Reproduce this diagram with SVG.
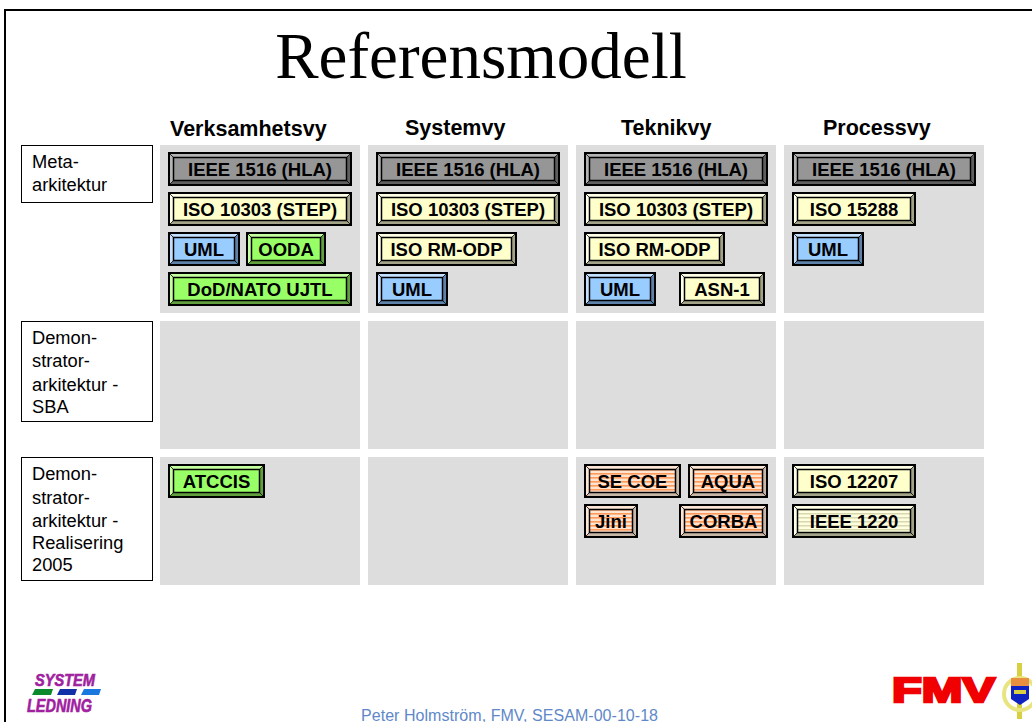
<svg xmlns="http://www.w3.org/2000/svg" width="1032" height="722" viewBox="0 0 1032 722">
<style>
text{font-family:"Liberation Sans",Arial,sans-serif}
.p{fill:#ddd}
.l{fill:#fff;stroke:#000;stroke-width:1}
.lt{font-size:18.3px;fill:#000}
.h{font-size:21.5px;font-weight:bold;fill:#000}
.t{font-size:18.5px;font-weight:bold;text-anchor:middle;fill:#000}
.o{fill:#000}.bd{fill:var(--d)}.bl{fill:var(--l)}.bf{fill:var(--f);stroke:#000;stroke-width:1.5}
.c{fill:none;stroke:#000;stroke-width:.8}
.gray{--d:#5f5f5f;--l:#b4b4b4;--f:#969696}
.yel{--d:#a3a38a;--l:#ffffe8;--f:#ffc}
.blu{--d:#5f82ab;--l:#c4e0ff;--f:#9cf}
.grn{--d:#62a03f;--l:#c4ffa0;--f:#9f6}
.org{--d:#c9b7a8;--l:#fbe6d5;--f:url(#so)}
.ylw{--d:#a3a38a;--l:#ffffe8;--f:url(#sy)}
</style>
<defs>
<filter id="soft" x="-5%" y="-5%" width="110%" height="110%"><feGaussianBlur stdDeviation="0.5"/></filter>
<pattern id="so" width="4" height="4" patternUnits="userSpaceOnUse"><rect width="4" height="4" fill="#ffe4d0"/><rect y="1" width="4" height="1.6" fill="#ff9a5c"/></pattern>
<pattern id="sy" width="4" height="4" patternUnits="userSpaceOnUse"><rect width="4" height="4" fill="#ffffe0"/><rect y="1" width="4" height="1.5" fill="#d8d8b0"/></pattern>
<g id="w184"><rect class="o" width="184" height="34"/><rect class="bd" x="2" y="2" width="180" height="30"/><path class="bl" d="M2 2h180l-3.500 3.500H5.500v23L2 32z"/><rect class="bf" x="5.500" y="5.500" width="173" height="23"/><path class="c" d="M2 2l4 4M182 2l-4 4M2 32l4-4M182 32l-4-4"/></g>
<g id="w141"><rect class="o" width="141" height="34"/><rect class="bd" x="2" y="2" width="137" height="30"/><path class="bl" d="M2 2h137l-3.500 3.500H5.500v23L2 32z"/><rect class="bf" x="5.500" y="5.500" width="130" height="23"/><path class="c" d="M2 2l4 4M139 2l-4 4M2 32l4-4M139 32l-4-4"/></g>
<g id="w124"><rect class="o" width="124" height="34"/><rect class="bd" x="2" y="2" width="120" height="30"/><path class="bl" d="M2 2h120l-3.500 3.500H5.500v23L2 32z"/><rect class="bf" x="5.500" y="5.500" width="113" height="23"/><path class="c" d="M2 2l4 4M122 2l-4 4M2 32l4-4M122 32l-4-4"/></g>
<g id="w97"><rect class="o" width="97" height="34"/><rect class="bd" x="2" y="2" width="93" height="30"/><path class="bl" d="M2 2h93l-3.500 3.500H5.500v23L2 32z"/><rect class="bf" x="5.500" y="5.500" width="86" height="23"/><path class="c" d="M2 2l4 4M95 2l-4 4M2 32l4-4M95 32l-4-4"/></g>
<g id="w89"><rect class="o" width="89" height="34"/><rect class="bd" x="2" y="2" width="85" height="30"/><path class="bl" d="M2 2h85l-3.500 3.500H5.500v23L2 32z"/><rect class="bf" x="5.500" y="5.500" width="78" height="23"/><path class="c" d="M2 2l4 4M87 2l-4 4M2 32l4-4M87 32l-4-4"/></g>
<g id="w86"><rect class="o" width="86" height="34"/><rect class="bd" x="2" y="2" width="82" height="30"/><path class="bl" d="M2 2h82l-3.500 3.500H5.500v23L2 32z"/><rect class="bf" x="5.500" y="5.500" width="75" height="23"/><path class="c" d="M2 2l4 4M84 2l-4 4M2 32l4-4M84 32l-4-4"/></g>
<g id="w80"><rect class="o" width="80" height="34"/><rect class="bd" x="2" y="2" width="76" height="30"/><path class="bl" d="M2 2h76l-3.500 3.500H5.500v23L2 32z"/><rect class="bf" x="5.500" y="5.500" width="69" height="23"/><path class="c" d="M2 2l4 4M78 2l-4 4M2 32l4-4M78 32l-4-4"/></g>
<g id="w72"><rect class="o" width="72" height="34"/><rect class="bd" x="2" y="2" width="68" height="30"/><path class="bl" d="M2 2h68l-3.500 3.500H5.500v23L2 32z"/><rect class="bf" x="5.500" y="5.500" width="61" height="23"/><path class="c" d="M2 2l4 4M70 2l-4 4M2 32l4-4M70 32l-4-4"/></g>
<g id="w54"><rect class="o" width="54" height="34"/><rect class="bd" x="2" y="2" width="50" height="30"/><path class="bl" d="M2 2h50l-3.500 3.500H5.500v23L2 32z"/><rect class="bf" x="5.500" y="5.500" width="43" height="23"/><path class="c" d="M2 2l4 4M52 2l-4 4M2 32l4-4M52 32l-4-4"/></g>
</defs>
<rect width="1032" height="722" fill="#fff"/>
<path d="M5 722V10H1032" fill="none" stroke="#000" stroke-width="2"/>
<text x="481" y="78" font-size="65" text-anchor="middle" style="font-family:'Liberation Serif',serif" fill="#000">Referensmodell</text>
<g id="headings">
<text class="h" x="170" y="136">Verksamhetsvy</text>
<text class="h" x="405" y="135">Systemvy</text>
<text class="h" x="621" y="135">Teknikvy</text>
<text class="h" x="823" y="135">Processvy</text>
</g>
<g id="panels">
<rect class="p" x="160" y="145" width="200" height="168"/><rect class="p" x="368" y="145" width="200" height="168"/><rect class="p" x="576" y="145" width="200" height="168"/><rect class="p" x="784" y="145" width="200" height="168"/>
<rect class="p" x="160" y="321" width="200" height="128"/><rect class="p" x="368" y="321" width="200" height="128"/><rect class="p" x="576" y="321" width="200" height="128"/><rect class="p" x="784" y="321" width="200" height="128"/>
<rect class="p" x="160" y="457" width="200" height="128"/><rect class="p" x="368" y="457" width="200" height="128"/><rect class="p" x="576" y="457" width="200" height="128"/><rect class="p" x="784" y="457" width="200" height="128"/>
</g>
<g id="label-meta"><rect class="l" x="21.500" y="145.500" width="131" height="57"/><text class="lt" x="32" y="168">Meta-</text><text class="lt" x="32" y="191">arkitektur</text></g>
<g id="label-sba"><rect class="l" x="21.500" y="321.500" width="131" height="100"/><text class="lt" x="32" y="344">Demon-</text><text class="lt" x="32" y="367">strator-</text><text class="lt" x="32" y="391">arkitektur -</text><text class="lt" x="32" y="413">SBA</text></g>
<g id="label-real"><rect class="l" x="21.500" y="457.500" width="131" height="123"/><text class="lt" x="32" y="480">Demon-</text><text class="lt" x="32" y="504">strator-</text><text class="lt" x="32" y="527">arkitektur -</text><text class="lt" x="32" y="549">Realisering</text><text class="lt" x="32" y="571">2005</text></g>

<g id="n1" class="gray" transform="translate(168 152)"><use href="#w184"/><text class="t" x="92" y="24">IEEE 1516 (HLA)</text></g>
<g id="n2" class="yel" transform="translate(168 192)"><use href="#w184"/><text class="t" x="92" y="24">ISO 10303 (STEP)</text></g>
<g id="n3" class="blu" transform="translate(168 232)"><use href="#w72"/><text class="t" x="36" y="24">UML</text></g>
<g id="n4" class="grn" transform="translate(246 232)"><use href="#w80"/><text class="t" x="40" y="24">OODA</text></g>
<g id="n5" class="grn" transform="translate(168 272)"><use href="#w184"/><text class="t" x="92" y="24">DoD/NATO UJTL</text></g>
<g id="n6" class="gray" transform="translate(376 152)"><use href="#w184"/><text class="t" x="92" y="24">IEEE 1516 (HLA)</text></g>
<g id="n7" class="yel" transform="translate(376 192)"><use href="#w184"/><text class="t" x="92" y="24">ISO 10303 (STEP)</text></g>
<g id="n8" class="yel" transform="translate(376 232)"><use href="#w141"/><text class="t" x="70.500" y="24">ISO RM-ODP</text></g>
<g id="n9" class="blu" transform="translate(376 272)"><use href="#w72"/><text class="t" x="36" y="24">UML</text></g>
<g id="n10" class="gray" transform="translate(584 152)"><use href="#w184"/><text class="t" x="92" y="24">IEEE 1516 (HLA)</text></g>
<g id="n11" class="yel" transform="translate(584 192)"><use href="#w184"/><text class="t" x="92" y="24">ISO 10303 (STEP)</text></g>
<g id="n12" class="yel" transform="translate(584 232)"><use href="#w141"/><text class="t" x="70.500" y="24">ISO RM-ODP</text></g>
<g id="n13" class="blu" transform="translate(584 272)"><use href="#w72"/><text class="t" x="36" y="24">UML</text></g>
<g id="n14" class="yel" transform="translate(679 272)"><use href="#w86"/><text class="t" x="43" y="24">ASN-1</text></g>
<g id="n15" class="gray" transform="translate(792 152)"><use href="#w184"/><text class="t" x="92" y="24">IEEE 1516 (HLA)</text></g>
<g id="n16" class="yel" transform="translate(792 192)"><use href="#w124"/><text class="t" x="62" y="24">ISO 15288</text></g>
<g id="n17" class="blu" transform="translate(792 232)"><use href="#w72"/><text class="t" x="36" y="24">UML</text></g>
<g id="n18" class="grn" transform="translate(168 464)"><use href="#w97"/><text class="t" x="48.500" y="24">ATCCIS</text></g>
<g id="n19" class="org" transform="translate(584 464)"><use href="#w97"/><text class="t" x="48.500" y="24">SE COE</text></g>
<g id="n20" class="org" transform="translate(688 464)"><use href="#w80"/><text class="t" x="40" y="24">AQUA</text></g>
<g id="n21" class="org" transform="translate(584 504)"><use href="#w54"/><text class="t" x="27" y="24">Jini</text></g>
<g id="n22" class="org" transform="translate(679 504)"><use href="#w89"/><text class="t" x="44.500" y="24">CORBA</text></g>
<g id="n23" class="yel" transform="translate(792 464)"><use href="#w124"/><text class="t" x="62" y="24">ISO 12207</text></g>
<g id="n24" class="ylw" transform="translate(792 504)"><use href="#w124"/><text class="t" x="62" y="24">IEEE 1220</text></g>
<g id="connectors"></g>

<g id="logo-system">
<text x="35" y="686" font-size="17" font-weight="bold" font-style="italic" fill="#a020a0" stroke="#a020a0" stroke-width=".6" textLength="60" lengthAdjust="spacingAndGlyphs">SYSTEM</text>
<path d="M35 689h18l-2 6H32z" fill="#0a8a2a"/><path d="M60 689h17l-2 6H57z" fill="#1030a8"/><path d="M84 689h17l-2 6H81z" fill="#1878e0"/>
<text x="27" y="712" font-size="18" font-weight="bold" font-style="italic" fill="#a020a0" stroke="#a020a0" stroke-width=".6" textLength="65" lengthAdjust="spacingAndGlyphs">LEDNING</text>
</g>
<text x="361" y="721" font-size="16" fill="#6088c8" textLength="297">Peter Holmström, FMV, SESAM-00-10-18</text>
<g id="logo-fmv">
<text x="892" y="702" font-size="35" font-weight="bold" fill="#f00000" stroke="#f00000" stroke-width="2.500" textLength="103" lengthAdjust="spacingAndGlyphs">FMV</text>
<g filter="url(#soft)">
<rect x="1017" y="663" width="5" height="56" fill="#d8d040"/>
<circle cx="1020" cy="694" r="16" fill="none" stroke="#e8e480" stroke-width="4"/>
<path d="M1011 678h18v8h-18z" fill="#e89040"/>
<path d="M1011 686h18v13l-9 6-9-6z" fill="#1020c0"/>
<rect x="1014" y="690" width="12" height="4" fill="#d8d040"/>
</g>
</g>
</svg>
